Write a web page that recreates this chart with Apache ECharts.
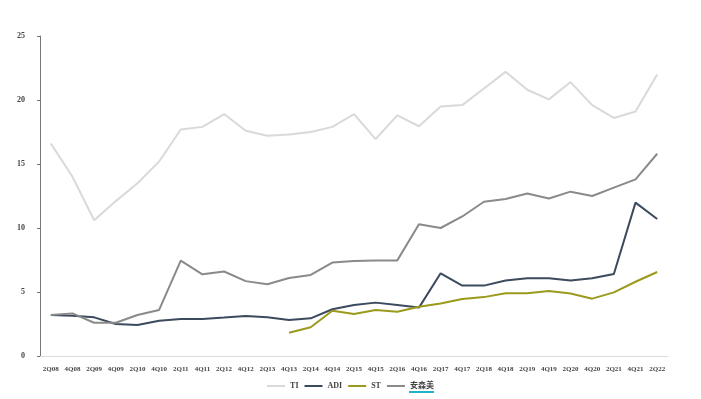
<!DOCTYPE html>
<html>
<head>
<meta charset="utf-8">
<script src="https://cdn.jsdelivr.net/npm/echarts@6/dist/echarts.min.js"></script>
<style>
  html, body { margin: 0; padding: 0; background: #fff; }
  #main { width: 701px; height: 399px; }
</style>
</head>
<body>
<div id="main"></div>
<script>
    // 半年度数据
    var quarters = ['2Q08', '4Q08', '2Q09', '4Q09', '2Q10', '4Q10', '2Q11', '4Q11', '2Q12', '4Q12',
        '2Q13', '4Q13', '2Q14', '4Q14', '2Q15', '4Q15', '2Q16', '4Q16', '2Q17', '4Q17',
        '2Q18', '4Q18', '2Q19', '4Q19', '2Q20', '4Q20', '2Q21', '4Q21', '2Q22'];
    var tiData = [16.6, 14.0, 10.6, 12.1, 13.5, 15.2, 17.7, 17.9, 18.9, 17.6,
        17.2, 17.3, 17.5, 17.9, 18.9, 16.95, 18.8, 17.95, 19.5, 19.6,
        20.9, 22.2, 20.8, 20.05, 21.4, 19.6, 18.6, 19.1, 22.0];
    var adiData = [3.2, 3.15, 3.02, 2.5, 2.42, 2.76, 2.9, 2.9, 3.0, 3.12,
        3.02, 2.81, 2.94, 3.65, 3.98, 4.17, 3.98, 3.78, 6.46, 5.5,
        5.5, 5.9, 6.07, 6.07, 5.9, 6.07, 6.4, 11.98, 10.7];
    var stData = [null, null, null, null, null, null, null, null, null, null,
        null, 1.82, 2.24, 3.54, 3.28, 3.59, 3.46, 3.85, 4.1, 4.45,
        4.6, 4.9, 4.9, 5.07, 4.88, 4.48, 4.97, 5.8, 6.56];
    var onData = [3.2, 3.33, 2.6, 2.6, 3.2, 3.6, 7.45, 6.38, 6.6, 5.85,
        5.6, 6.1, 6.33, 7.3, 7.42, 7.47, 7.47, 10.3, 10.0, 10.9,
        12.05, 12.27, 12.7, 12.3, 12.84, 12.5, 13.15, 13.8, 15.8];
    var yTicks = [0, 5, 10, 15, 20, 25];

    var fontFam = 'Liberation Serif, Noto Sans CJK SC, serif';
    var myChart = echarts.init(document.getElementById('main'));

    function mkLine(name, data, color) {
        return {
            name: name,
            type: 'line',
            data: data,
            symbol: 'none',
            lineStyle: { color: color, width: 2 },
            itemStyle: { color: color }
        };
    }

    var option = {
        animation: false,
        grid: { left: 40, right: 33, top: 36, bottom: 43 },
        legend: {
            top: 377,
            left: 'center',
            icon: 'rect',
            itemWidth: 18,
            itemHeight: 2,
            itemGap: 6,
            textStyle: { fontFamily: fontFam, fontWeight: 'bold', fontSize: 8, color: '#444' },
            data: ['TI', 'ADI', 'ST', '安森美']
        },
        // 图例下划线（原图中的蓝色下划线）
        graphic: [{
            type: 'rect',
            left: 409,
            top: 391,
            shape: { width: 25, height: 2 },
            style: { fill: '#1fb3c8' }
        }],
        xAxis: {
            type: 'category',
            data: quarters,
            boundaryGap: true,
            axisLine: { lineStyle: { color: '#dcdcdc', width: 1 } },
            axisTick: { show: false },
            axisLabel: {
                interval: 0,
                fontFamily: fontFam,
                fontWeight: 'bold',
                fontSize: 7,
                color: '#444',
                margin: 10
            }
        },
        yAxis: {
            type: 'value',
            min: yTicks[0],
            max: yTicks[yTicks.length - 1],
            interval: 5,
            splitLine: { show: false },
            axisLine: { show: true, lineStyle: { color: '#777', width: 1 } },
            axisTick: { show: true, length: 3, lineStyle: { color: '#777' } },
            axisLabel: {
                fontFamily: fontFam,
                fontWeight: 'bold',
                fontSize: 8,
                color: '#444',
                margin: 15
            }
        },
        series: [
            mkLine('TI', tiData, '#d9d9d9'),
            mkLine('ADI', adiData, '#3b4a5d'),
            mkLine('ST', stData, '#9a9a1c'),
            mkLine('安森美', onData, '#8a8a8a')
        ]
    };
    myChart.setOption(option);
</script>
</body>
</html>
